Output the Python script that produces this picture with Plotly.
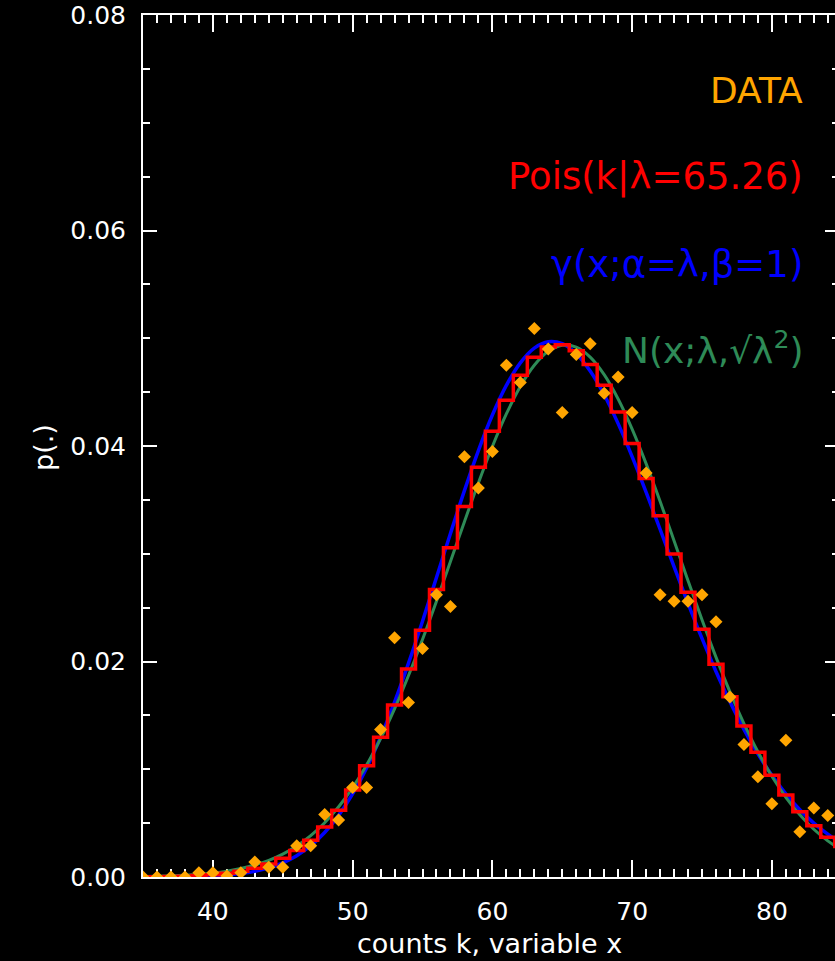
import plotly.graph_objects as go

# ---------------- data ----------------
k_values = list(range(35, 86))

data_k = list(range(35, 85))
data_p = [0.0, 0.0, 0.0, 0.0, 0.0004, 0.0004, 0.0001, 0.0004, 0.0014, 0.0009,
          0.0009, 0.0029, 0.0029, 0.0058, 0.0053, 0.0083, 0.0083, 0.0137, 0.0222, 0.0162,
          0.0212, 0.0262, 0.0251, 0.0390, 0.0361, 0.0395, 0.0475, 0.0459, 0.0509, 0.0490,
          0.0431, 0.0485, 0.0495, 0.0449, 0.0464, 0.0431, 0.0375, 0.0262, 0.0256, 0.0256,
          0.0262, 0.0237, 0.0167, 0.0123, 0.0093, 0.0068, 0.0127, 0.0042, 0.0064, 0.0057]

pois_p = [0.0000143, 0.0000260, 0.0000458, 0.0000787, 0.0001317, 0.0002149, 0.0003420,
          0.0005314, 0.0008065, 0.0011962, 0.0017347, 0.0024610, 0.0034171, 0.0046458,
          0.0061875, 0.0080759, 0.010334, 0.012969, 0.015969, 0.019299, 0.022899, 0.026686,
          0.030553, 0.034377, 0.038024, 0.041358, 0.044246, 0.046572, 0.048243, 0.049193,
          0.049390, 0.048836, 0.047553, 0.045637, 0.043163, 0.040240, 0.036987, 0.033525,
          0.029970, 0.026430, 0.022998, 0.019748, 0.016737, 0.014003, 0.011568, 0.0094366,
          0.0076029, 0.0060508, 0.0047575, 0.0036961, 0.0028377]

gamma_p = [2.80e-6, 6.30e-6, 1.348e-5, 2.751e-5, 5.372e-5, 1.0056e-4, 1.8085e-4, 3.1298e-4,
           5.2222e-4, 8.4175e-4, 1.3124e-3, 1.9822e-3, 2.9042e-3, 4.1333e-3, 5.7203e-3,
           7.7084e-3, 1.0123e-2, 1.2970e-2, 1.6227e-2, 1.9843e-2, 2.3735e-2, 2.7794e-2,
           3.1885e-2, 3.5864e-2, 3.9578e-2, 4.2874e-2, 4.5625e-2, 4.7721e-2, 4.9085e-2,
           4.9676e-2, 4.9493e-2, 4.8568e-2, 4.6958e-2, 4.4760e-2, 4.2074e-2, 3.9015e-2,
           3.5712e-2, 3.2275e-2, 2.8806e-2, 2.5404e-2, 2.2142e-2, 1.9079e-2, 1.6260e-2,
           1.3705e-2, 1.1432e-2, 9.437e-3, 7.714e-3, 6.243e-3, 5.005e-3, 3.975e-3, 3.128e-3]

normal_p = [4.43e-5, 7.00e-5, 1.087e-4, 1.664e-4, 2.507e-4, 3.720e-4, 5.435e-4, 7.822e-4,
            1.1088e-3, 1.5477e-3, 2.1273e-3, 2.8795e-3, 3.8391e-3, 5.039e-3, 6.514e-3,
            8.293e-3, 1.0397e-2, 1.2840e-2, 1.5612e-2, 1.8695e-2, 2.2045e-2, 2.5601e-2,
            2.9279e-2, 3.2977e-2, 3.6575e-2, 3.9951e-2, 4.2974e-2, 4.5522e-2, 4.7489e-2,
            4.8787e-2, 4.9358e-2, 4.9177e-2, 4.8252e-2, 4.6624e-2, 4.4365e-2, 4.1574e-2,
            3.8366e-2, 3.4868e-2, 3.1207e-2, 2.7505e-2, 2.3873e-2, 2.0407e-2, 1.7178e-2,
            1.4240e-2, 1.1624e-2, 9.346e-3, 7.400e-3, 5.769e-3, 4.430e-3, 3.350e-3, 2.494e-3]

legend_labels = ["DATA", "Pois(k|λ=65.26)", "γ(x;α=λ,β=1)", "N(x;λ,√λ<sup>2</sup>)"]
x_title = "counts k, variable x"
y_title = "p(.)"

# ---------------- styling ----------------
ORANGE = "#FFA500"
RED = "#FF0000"
BLUE = "#0000FF"
GREEN = "#2E8B57"
FONT = "DejaVu Sans"

W, H = 835, 961
ML, MR, MT, MB = 143, 0, 15, 84
PW, PH = W - ML - MR, H - MT - MB

fig = go.Figure()

fig.add_trace(go.Scatter(x=k_values, y=gamma_p, mode="lines",
                         line=dict(color=BLUE, width=3.5, shape="spline"),
                         showlegend=False, hoverinfo="skip"))
fig.add_trace(go.Scatter(x=k_values, y=normal_p, mode="lines",
                         line=dict(color=GREEN, width=3, shape="spline"),
                         showlegend=False, hoverinfo="skip"))
fig.add_trace(go.Scatter(x=k_values, y=pois_p, mode="lines",
                         line=dict(color=RED, width=3.5, shape="hvh"),
                         showlegend=False, hoverinfo="skip"))
fig.add_trace(go.Scatter(x=data_k, y=data_p, mode="markers",
                         marker=dict(symbol="diamond", color=ORANGE, size=10,
                                     line=dict(width=0)),
                         showlegend=False, hoverinfo="skip"))
# helper trace so the right-hand tick axis is drawn
fig.add_trace(go.Scatter(x=[None], y=[None], yaxis="y2", mode="markers",
                         showlegend=False, hoverinfo="skip"))

tickfont = dict(family=FONT, size=25, color="white")

fig.update_layout(
    width=W, height=H,
    margin=dict(l=ML, r=MR, t=MT, b=MB),
    paper_bgcolor="black", plot_bgcolor="black",
    showlegend=False,
    xaxis=dict(
        range=[35, 35 + PW / 13.975], showgrid=False, zeroline=False,
        showline=True, linecolor="white", linewidth=2, mirror="ticks",
        ticks="inside", ticklen=17, tickwidth=2, tickcolor="white",
        tick0=0, dtick=10, tickfont=tickfont, ticklabelstandoff=11,
        layer="below traces",
        minor=dict(dtick=1, ticks="inside", ticklen=8, tickwidth=2,
                   tickcolor="white", showgrid=False),
    ),
    yaxis=dict(
        range=[0, 0.08], showgrid=False, zeroline=False,
        showline=True, linecolor="white", linewidth=2, mirror=False,
        ticks="inside", ticklen=14, tickwidth=2, tickcolor="white",
        tick0=0, dtick=0.02, tickformat=".2f", tickfont=tickfont,
        ticklabelstandoff=10, layer="below traces",
        minor=dict(dtick=0.005, ticks="inside", ticklen=7, tickwidth=2,
                   tickcolor="white", showgrid=False),
    ),
    yaxis2=dict(
        range=[0, 0.08], overlaying="y", side="right", anchor="x",
        showgrid=False, zeroline=False, showline=False, showticklabels=False,
        ticks="inside", ticklen=10, tickwidth=2, tickcolor="white",
        tick0=0, dtick=0.02, layer="below traces",
        minor=dict(dtick=0.005, ticks="inside", ticklen=3, tickwidth=2,
                   tickcolor="white", showgrid=False),
    ),
)

def py(px):
    return (H - MB - px) / PH

def pxx(px):
    return (px - ML) / PW

label_colors = [ORANGE, RED, BLUE, GREEN]
label_rows = [91, 177, 264, 348]
label_sizes = [36, 37, 37, 36]
for txt, col, row, sz in zip(legend_labels, label_colors, label_rows, label_sizes):
    fig.add_annotation(text=txt, xref="paper", yref="paper", x=pxx(805), y=py(row),
                       xanchor="right", yanchor="middle", showarrow=False,
                       font=dict(family=FONT, size=sz, color=col))

fig.add_annotation(text=x_title, xref="paper", yref="paper", x=pxx(490), y=py(943),
                   xanchor="center", yanchor="middle", showarrow=False,
                   font=dict(family=FONT, size=27, color="white"))
fig.add_annotation(text=y_title, xref="paper", yref="paper", x=pxx(43), y=py(447),
                   xanchor="center", yanchor="middle", showarrow=False, textangle=-90,
                   font=dict(family=FONT, size=27, color="white"))

fig.write_html("out.html")
